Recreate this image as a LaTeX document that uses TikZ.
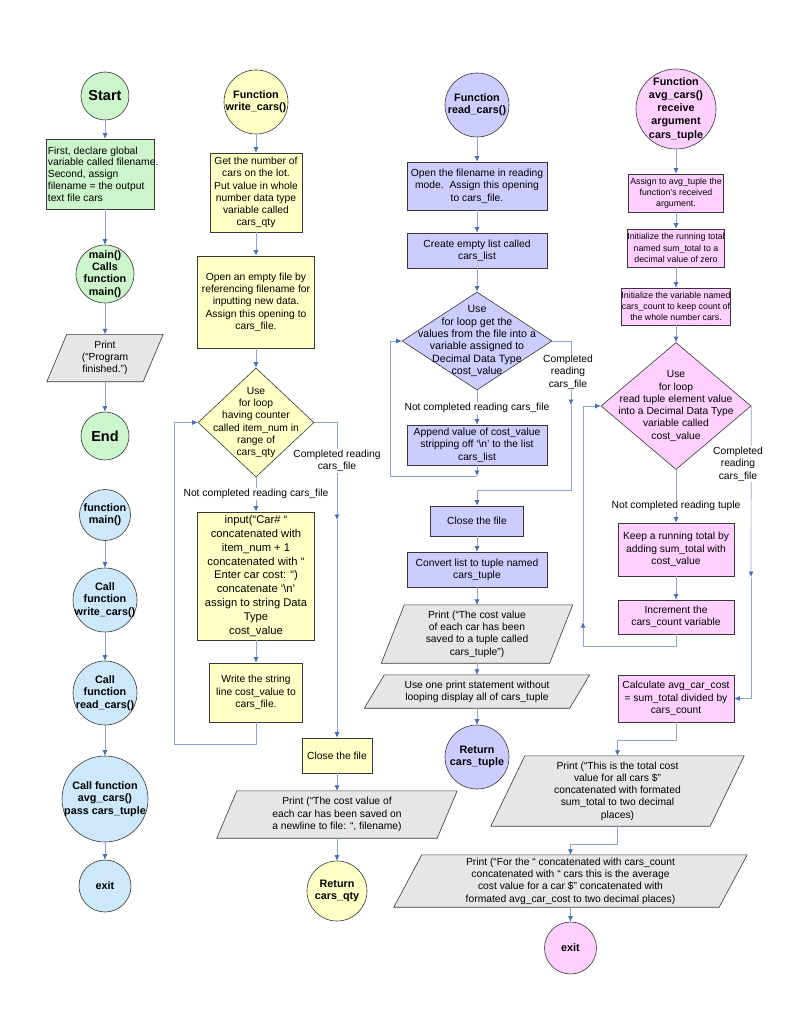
\documentclass[tikz,border=0pt]{standalone}
\usepackage{fontspec}
\setmainfont{Liberation Sans}
\usetikzlibrary{shapes.geometric,arrows.meta,backgrounds}
\definecolor{cgreen}{RGB}{204,245,204}
\definecolor{cblue}{RGB}{204,232,250}
\definecolor{cyellow}{RGB}{255,255,198}
\definecolor{cpurple}{RGB}{204,204,255}
\definecolor{cpink}{RGB}{255,208,255}
\definecolor{cgrey}{RGB}{230,230,230}
\definecolor{edgec}{RGB}{55,55,55}
\definecolor{linec}{RGB}{140,165,210}
\definecolor{arrc}{RGB}{70,110,190}
\newcommand\pgram[3]{%
\begin{scope}[on background layer]
\draw[draw=edgec,line width=0.6pt,fill=#3] ([xshift=#2]#1.north west) -- ([xshift=#2]#1.north east) -- ([xshift=-#2]#1.south east) -- ([xshift=-#2]#1.south west) -- cycle;
\end{scope}}
\tikzset{
 fnt/.style={font=\fontsize{10.3}{12.3}\selectfont},
 shp/.style={draw=edgec, line width=0.6pt, inner sep=0pt},
 box/.style={shp, rectangle, align=center, fnt},
 circ/.style={shp, circle},
 dia/.style={shp, diamond},
 ctext/.style={align=center, inner sep=0pt, font=\bfseries\fontsize{10.8}{12.3}\selectfont},
 bigtext/.style={align=center, inner sep=0pt, font=\bfseries\fontsize{14.5}{16}\selectfont},
 dtext/.style={align=center, inner sep=0pt, fnt},
 ptext/.style={rectangle, align=center, inner sep=0pt, fnt},
 lbl/.style={fill=white, inner sep=1pt, align=center, fnt},
 conn/.style={draw=linec, line width=0.7pt, -{Latex[length=5.5pt,width=5pt,color=arrc]}},
}
\begin{document}
\begin{tikzpicture}[x=1pt,y=-1pt]
\useasboundingbox (0,0) rectangle (791,1024);
\begin{scope}[on background layer]
\fill[white] (0,0) rectangle (791,1024);
\end{scope}
% ---------- column 1 ----------
\node[circ, fill=cgreen, minimum size=48pt] (start) at (105,96) {};
\node[bigtext] (start-t) at (start) {Start};
\node[box, fill=cgreen, minimum width=108pt, minimum height=70pt] (decl) at (100,174) {};
\node[anchor=west, align=left, inner sep=0pt, font=\fontsize{10.3}{11.7}\selectfont] (decl-t) at ([xshift=2pt]decl.west) {First, declare global\\variable called filename.\\Second, assign\\filename = the output\\text file cars};
\node[circ, fill=cgreen, minimum size=58pt] (main1) at (105,274) {};
\node[ctext] (main1-t) at (main1) {main()\\Calls\\function\\main()};
\node[ptext, minimum width=96pt, minimum height=47pt] (print1) at (105,358) {Print\\(“Program\\finished.”)};
\pgram{print1}{10pt}{cgrey}
\node[circ, fill=cgreen, minimum size=48pt] (endn) at (105,436) {};
\node[bigtext] (endn-t) at (endn) {End};
\node[circ, fill=cblue, minimum size=51pt] (fmain) at (105,515) {};
\node[ctext] (fmain-t) at (fmain) {function\\main()};
\node[circ, fill=cblue, minimum size=64pt] (cw) at (105,600) {};
\node[ctext] (cw-t) at (cw) {Call\\function\\write\_cars()};
\node[circ, fill=cblue, minimum size=64pt] (cr) at (105,693) {};
\node[ctext] (cr-t) at (cr) {Call\\function\\read\_cars()};
\node[circ, fill=cblue, minimum size=86pt] (ca) at (105,799) {};
\node[ctext] (ca-t) at (ca) {Call function\\avg\_cars()\\pass cars\_tuple};
\node[circ, fill=cblue, minimum size=52pt] (exit1) at (105,886) {};
\node[ctext] (exit1-t) at (exit1) {exit};
% ---------- column 2 ----------
\node[circ, fill=cyellow, minimum size=64pt] (fw) at (256,102) {};
\node[ctext] (fw-t) at (fw) {Function\\write\_cars()};
\node[box, fill=cyellow, minimum width=92pt, minimum height=79pt] (getnum) at (256,192.5) {Get the number of\\cars on the lot.\\Put value in whole\\number data type\\variable called\\cars\_qty};
\node[box, fill=cyellow, minimum width=117pt, minimum height=92pt] (openw) at (256,302) {Open an empty file by\\referencing filename for\\inputting new data.\\Assign this opening to\\cars\_file.};
\node[dia, fill=cyellow, minimum width=116pt, minimum height=109pt] (dw) at (256,422.5) {};
\node[dtext] (dw-t) at (dw) {Use\\for loop\\having counter\\called item\_num in\\range of\\cars\_qty};
\node[box, fill=cyellow, minimum width=117pt, minimum height=128pt, font=\fontsize{11.2}{13.8}\selectfont] (input) at (256,576) {input(“Car\# “\\concatenated with\\item\_num + 1\\concatenated with “\\Enter car cost: “)\\concatenate ‘\textbackslash n’\\assign to string Data\\Type\\cost\_value};
\node[box, fill=cyellow, minimum width=93pt, minimum height=59pt] (writes) at (256,692.5) {Write the string\\line cost\_value to\\cars\_file.};
\node[box, fill=cyellow, minimum width=70pt, minimum height=35pt] (closew) at (337,755.5) {Close the file};
\node[ptext, minimum width=220pt, minimum height=47pt] (printw) at (337,814.5) {Print (“The cost value of\\each car has been saved on\\a newline to file: “, filename)};
\pgram{printw}{10pt}{cgrey}
\node[circ, fill=cyellow, minimum size=60pt] (rq) at (337,891) {};
\node[ctext] (rq-t) at (rq) {Return\\cars\_qty};
% ---------- column 3 ----------
\node[circ, fill=cpurple, minimum size=64pt] (fr) at (477,105) {};
\node[ctext] (fr-t) at (fr) {Function\\read\_cars()};
\node[box, fill=cpurple, minimum width=140pt, minimum height=48pt] (openr) at (477,186) {Open the filename in reading\\mode.\ \ Assign this opening\\to cars\_file.};
\node[box, fill=cpurple, minimum width=140pt, minimum height=35pt] (create) at (477,250.5) {Create empty list called\\cars\_list};
\node[dia, fill=cpurple, minimum width=150pt, minimum height=98pt] (dr) at (477,341) {};
\node[dtext, font=\fontsize{10.6}{12.3}\selectfont] (dr-t) at (dr) {Use\\for loop get the\\values from the file into a\\variable assigned to\\Decimal Data Type\\cost\_value};
\node[box, fill=cpurple, minimum width=140pt, minimum height=40pt] (append) at (477,445) {Append value of cost\_value\\stripping off ‘\textbackslash n’ to the list\\cars\_list};
\node[box, fill=cpurple, minimum width=93pt, minimum height=30pt] (closer) at (477,521) {Close the file};
\node[box, fill=cpurple, minimum width=140pt, minimum height=35pt] (convert) at (477,569.5) {Convert list to tuple named\\cars\_tuple};
\node[ptext, minimum width=168pt, minimum height=58pt] (printr) at (477,634) {Print (“The cost value\\of each car has been\\saved to a tuple called\\cars\_tuple”)};
\pgram{printr}{11.5pt}{cgrey}
\node[ptext, minimum width=205pt, minimum height=33pt] (useone) at (477,691.5) {Use one print statement without\\looping display all of cars\_tuple};
\pgram{useone}{10pt}{cgrey}
\node[circ, fill=cpurple, minimum size=64pt] (rt) at (477,757) {};
\node[ctext] (rt-t) at (rt) {Return\\cars\_tuple};
% ---------- column 4 ----------
\node[circ, fill=cpink, minimum size=80pt] (fa) at (676,109) {};
\node[ctext, font=\bfseries\fontsize{10.8}{13.2}\selectfont] (fa-t) at (fa) {Function\\avg\_cars()\\receive\\argument\\cars\_tuple};
\node[box, fill=cpink, minimum width=95pt, minimum height=38pt, font=\fontsize{8.8}{11.2}\selectfont] (assign) at (676,193) {Assign to avg\_tuple the\\function’s received\\argument.};
\node[box, fill=cpink, minimum width=95pt, minimum height=38pt, font=\fontsize{8.8}{11.2}\selectfont] (initsum) at (676,248) {Initialize the running total\\named sum\_total to a\\decimal value of zero};
\node[box, fill=cpink, minimum width=102pt, minimum height=37pt, font=\fontsize{8.8}{11.2}\selectfont] (initcount) at (676,306.5) {Initialize the variable named\\cars\_count to keep count of\\the whole number cars.};
\node[dia, fill=cpink, minimum width=150pt, minimum height=127pt] (da) at (676,406) {};
\node[dtext] (da-t) at (da) {Use\\for loop\\read tuple element value\\into a Decimal Data Type\\variable called\\cost\_value};
\node[box, fill=cpink, minimum width=116pt, minimum height=53pt] (keep) at (676,549.5) {Keep a running total by\\adding sum\_total with\\cost\_value};
\node[box, fill=cpink, minimum width=116pt, minimum height=34pt] (incr) at (676,617) {Increment the\\cars\_count variable};
\node[box, fill=cpink, minimum width=116pt, minimum height=47pt] (calc) at (676,698.5) {Calculate avg\_car\_cost\\= sum\_total divided by\\cars\_count};
\node[ptext, minimum width=219pt, minimum height=70pt] (ptotal) at (617.5,791) {Print (“This is the total cost\\value for all cars \$”\\concatenated with formated\\sum\_total to two decimal\\places)};
\pgram{ptotal}{17pt}{cgrey}
\node[ptext, minimum width=325pt, minimum height=52pt] (pfor) at (570.5,881) {Print (“For the “ concatenated with cars\_count\\concatenated with “ cars this is the average\\cost value for a car \$” concatenated with\\formated avg\_car\_cost to two decimal places)};
\pgram{pfor}{14pt}{cgrey}
\node[circ, fill=cpink, minimum size=52pt] (exit2) at (570.5,948) {};
\node[ctext] (exit2-t) at (exit2) {exit};
% ---------- connectors column 1 ----------
\draw[conn] (start) -- (start |- decl.north);
\draw[conn] (decl.south -| main1) -- (main1);
\draw[conn] (main1) -- (print1);
\draw[conn] (print1) -- (endn);
\draw[conn] (fmain) -- (cw);
\draw[conn] (cw) -- (cr);
\draw[conn] (cr) -- (ca);
\draw[conn] (ca) -- (exit1);
% ---------- connectors column 2 ----------
\draw[conn] (fw) -- (getnum);
\draw[conn] (getnum) -- (openw);
\draw[conn] (openw) -- (dw);
\draw[conn] (dw.south) -- (input);
\draw[conn] (input) -- (writes);
\coordinate (wl) at (174,744);
\draw[conn] (writes.south) |- (wl) |- (dw.west);
\coordinate (wr) at (337,520);
\draw[conn] (dw.east) -| (wr);
\draw[conn] (wr) -- (closew);
\draw[conn] (closew) -- (printw);
\draw[conn] (printw) -- (rq);
% ---------- connectors column 3 ----------
\draw[conn] (fr) -- (openr);
\draw[conn] (openr) -- (create);
\draw[conn] (create) -- (dr);
\draw[conn] (dr.south) -- (append);
\coordinate (a1) at (477,476);
\draw[conn] (append) -- (a1);
\coordinate (rl) at (390,476);
\draw[conn] (a1) -- (rl) |- (dr.west);
\coordinate (rr) at (571,405);
\draw[conn] (dr.east) -| (rr);
\coordinate (rj) at (571,490);
\draw[conn] (rr) -- (rj) -| (closer.north);
\draw[conn] (closer) -- (convert);
\draw[conn] (convert) -- (printr);
\draw[conn] (printr) -- (useone);
\draw[conn] (useone) -- (rt);
% ---------- connectors column 4 ----------
\draw[conn] (fa) -- (assign);
\draw[conn] (assign) -- (initsum);
\draw[conn] (initsum) -- (initcount);
\draw[conn] (initcount) -- (da);
\draw[conn] (da.south) -- (keep);
\draw[conn] (keep) -- (incr);
\coordinate (lb) at (583,646);
\coordinate (lu) at (583,622);
\draw[conn] (incr.south) |- (lb) -- (lu);
\draw[conn] (lu) |- (da.west);
\coordinate (ra) at (751,577);
\draw[conn] (da.east) -- (ra);
\draw[conn] (ra) |- (calc.east);
\coordinate (cj) at (676,740);
\draw[conn] (calc.south) -- (cj) -| (ptotal.north);
\coordinate (pj) at (617.5,844);
\draw[conn] (ptotal.south) -- (pj) -| (pfor.north);
\draw[conn] (pfor) -- (exit2);
% ---------- labels ----------
\node[lbl] (l1) at (256,494) {Not completed reading cars\_file};
\node[lbl] (l2) at (337,461) {Completed reading\\cars\_file};
\node[lbl] (l3) at (477,408) {Not completed reading cars\_file};
\node[lbl] (l4) at (568,372) {Completed\\reading\\cars\_file};
\node[lbl] (l5) at (676,506) {Not completed reading tuple};
\node[lbl] (l6) at (738,464) {Completed\\reading\\cars\_file};
\end{tikzpicture}
\end{document}
